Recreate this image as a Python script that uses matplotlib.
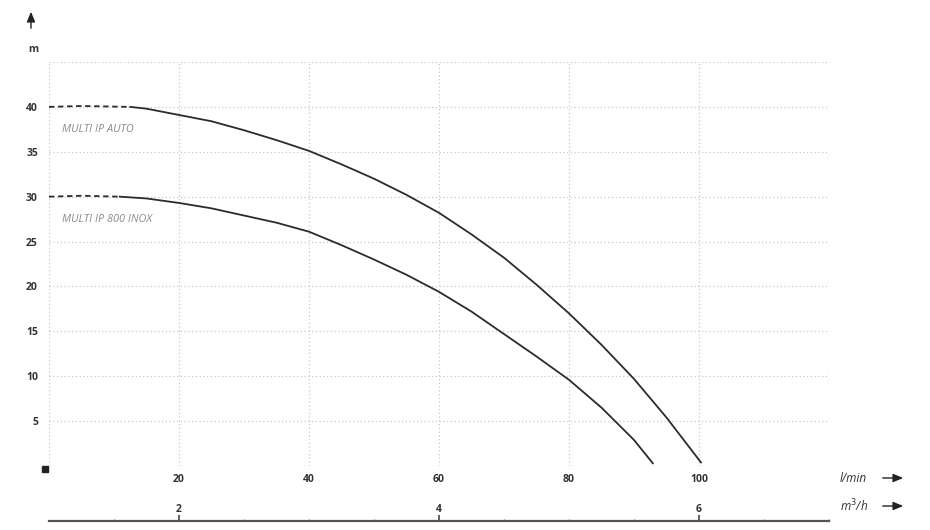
import matplotlib
matplotlib.use("Agg")
import matplotlib.pyplot as plt

# ---- data ----
auto_dash_x = [0, 5, 12.5]
auto_dash_y = [40.0, 40.1, 40.0]
auto_x = [12.5, 15, 20, 25, 30, 35, 40, 45, 50, 55, 60, 65, 70, 75, 80, 85, 90, 95, 100.3]
auto_y = [40.0, 39.8, 39.1, 38.4, 37.4, 36.3, 35.1, 33.6, 32.0, 30.2, 28.2, 25.8, 23.2, 20.2,
          17.0, 13.5, 9.7, 5.4, 0.4]

inox_dash_x = [0, 5, 10.9]
inox_dash_y = [30.0, 30.1, 30.0]
inox_x = [10.9, 15, 20, 25, 30, 35, 40, 45, 50, 55, 60, 65, 70, 75, 80, 85, 90, 92.9]
inox_y = [30.0, 29.8, 29.3, 28.7, 27.9, 27.1, 26.1, 24.6, 23.0, 21.3, 19.4, 17.2, 14.7, 12.2,
          9.6, 6.5, 2.9, 0.3]

x_ticks = [20, 40, 60, 80, 100]
y_ticks = [5, 10, 15, 20, 25, 30, 35, 40]
grid_x = [0, 20, 40, 60, 80, 100, 120]
grid_y = [0, 5, 10, 15, 20, 25, 30, 35, 40, 45]
m3h_pos = [20, 60, 100]
m3h_labels = ["2", "4", "6"]
m3h_minor = [10, 30, 40, 50, 70, 80, 90, 110, 120]

W, H = 930, 530
fig = plt.figure(figsize=(W / 100, H / 100), dpi=100)
L, R, B, T = 49, 829, 466, 62
ax = fig.add_axes([L / W, (H - B) / H, (R - L) / W, (B - T) / H])
ax.set_xlim(0, 120)
ax.set_ylim(0, 45)
for s in ax.spines.values():
    s.set_visible(False)

gcol = "#c8c8c8"
for gx in grid_x:
    ax.axvline(gx, color=gcol, lw=0.9, ls=(0, (1, 2)), zorder=1)
for gy in grid_y:
    ax.axhline(gy, color=gcol, lw=0.9, ls=(0, (1, 2)), zorder=1)

lc = "#2b2b2b"
ax.plot(auto_dash_x, auto_dash_y, color=lc, lw=1.3, ls=(0, (3, 2)), zorder=3)
ax.plot(auto_x, auto_y, color=lc, lw=1.3, zorder=3, solid_joinstyle="round")
ax.plot(inox_dash_x, inox_dash_y, color=lc, lw=1.3, ls=(0, (3, 2)), zorder=3)
ax.plot(inox_x, inox_y, color=lc, lw=1.3, zorder=3, solid_joinstyle="round")

lab_font = dict(family=["Liberation Sans Narrow", "Open Sans", "DejaVu Sans"], style="italic",
                color="#8a8a8a", fontsize=7.8)
ax.text(2.0, 37.5, "MULTI IP AUTO", va="center", ha="left", **lab_font)
ax.text(2.0, 27.5, "MULTI IP 800 INOX", va="center", ha="left", **lab_font)

tick_font = dict(family=["Open Sans", "DejaVu Sans"], fontweight="bold", color="#333333", fontsize=7.5)
ax.set_xticks(x_ticks)
ax.set_xticklabels([str(v) for v in x_ticks], **tick_font)
ax.set_yticks(y_ticks)
ax.set_yticklabels([str(v) for v in y_ticks], **tick_font)
ax.tick_params(axis="x", length=0, pad=6)
ax.tick_params(axis="y", length=0, pad=8)

# origin square marker
ax.plot([-0.6], [-0.35], marker="s", ms=4.5, color="#222222", clip_on=False, zorder=5)

# secondary m3/h axis
ax2 = fig.add_axes([L / W, (H - 521) / H, (R - L) / W, 0.0001])
ax2.set_xlim(0, 120)
ax2.set_ylim(0, 1)
for k in ["left", "right", "bottom"]:
    ax2.spines[k].set_visible(False)
ax2.spines["top"].set_color("#555555")
ax2.spines["top"].set_linewidth(1.6)
ax2.patch.set_visible(False)
ax2.set_yticks([])
ax2.xaxis.tick_top()
ax2.set_xticks(m3h_pos)
ax2.set_xticklabels(m3h_labels, **tick_font)
ax2.set_xticks(m3h_minor, minor=True)
ax2.tick_params(axis="x", which="major", direction="out", length=4, width=1.3, color="#555555", pad=0.5)
ax2.tick_params(axis="x", which="minor", direction="out", length=1.5, width=1.0, color="#888888")

# unit labels and arrows
unit_font = dict(family=["Open Sans", "DejaVu Sans"], style="italic", color="#333333", fontsize=8.5)
fig.text(840 / W, (H - 478) / H, "l/min", ha="left", va="center", **unit_font)
fig.text(840 / W, (H - 506) / H, "m$^3$/h", ha="left", va="center", **unit_font)
fig.text(33 / W, (H - 50) / H, "m", ha="center", va="center", **tick_font)

arrow = dict(arrowstyle="-|>,head_length=0.6,head_width=0.25", color="#222222", lw=1.0)
for yy in (478, 506):
    fig.add_artist(matplotlib.patches.FancyArrowPatch(
        (880 / W, (H - yy) / H), (906 / W, (H - yy) / H),
        transform=fig.transFigure, **arrow, mutation_scale=10))
fig.add_artist(matplotlib.patches.FancyArrowPatch(
    (31 / W, (H - 31) / H), (31 / W, (H - 9) / H),
    transform=fig.transFigure, **arrow, mutation_scale=10))

fig.savefig("out.png", dpi=100)
